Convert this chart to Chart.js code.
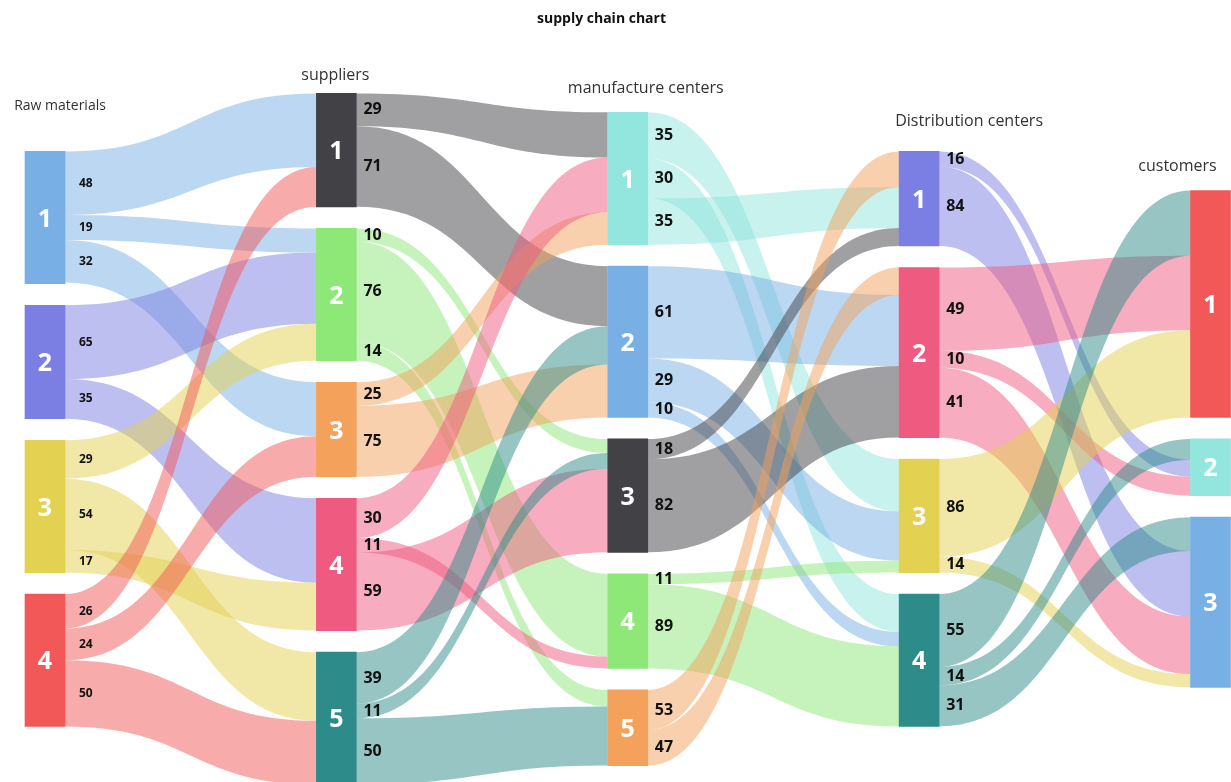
<!DOCTYPE html>
<html>
<head>
<meta charset="utf-8">
<title>supply chain chart</title>
<script src="https://cdn.jsdelivr.net/npm/chart.js@4.4.1/dist/chart.umd.min.js"></script>
<style>
  html, body { margin: 0; padding: 0; background: #fff; }
  #wrap { width: 1231px; height: 782px; position: relative; }
</style>
</head>
<body>
<div id="wrap"><canvas id="chart"></canvas></div>
<script>
// stages, left to right
var chartTitle = "supply chain chart";
var stages = ["Raw materials", "suppliers", "manufacture centers", "Distribution centers", "customers"];

// node volumes per stage, top to bottom
var rawVolume = [7, 6, 7, 7];
var supplierVolume = [6, 7, 5, 7, 7];
var manufactureVolume = [7, 8, 6, 5, 4];
var distributionVolume = [5, 9, 6, 7];
var customerVolume = [12, 3, 9];

// links: [from node, to node, percent of the source], in order down the source node
var rawToSupplier = [
  [1, 1, 48], [1, 2, 19], [1, 3, 32],
  [2, 2, 65], [2, 4, 35],
  [3, 2, 29], [3, 5, 54], [3, 4, 17],
  [4, 1, 26], [4, 3, 24], [4, 5, 50]
];
var supplierToManufacture = [
  [1, 1, 29], [1, 2, 71],
  [2, 3, 10], [2, 4, 76], [2, 5, 14],
  [3, 1, 25], [3, 2, 75],
  [4, 1, 30], [4, 4, 11], [4, 3, 59],
  [5, 2, 39], [5, 3, 11], [5, 5, 50]
];
var manufactureToDistribution = [
  [1, 3, 35], [1, 4, 30], [1, 1, 35],
  [2, 2, 61], [2, 3, 29], [2, 4, 10],
  [3, 1, 18], [3, 2, 82],
  [4, 3, 11], [4, 4, 89],
  [5, 1, 53], [5, 2, 47]
];
var distributionToCustomer = [
  [1, 2, 16], [1, 3, 84],
  [2, 1, 49], [2, 2, 10], [2, 3, 41],
  [3, 1, 86], [3, 3, 14],
  [4, 1, 55], [4, 2, 14], [4, 3, 31]
];

// order in which incoming links stack on each target node (source node numbers)
var supplierArrivals = [[1, 4], [1, 2, 3], [1, 4], [2, 3], [3, 4]];
var manufactureArrivals = [[1, 4, 3], [1, 5, 3], [2, 5, 4], [2, 4], [2, 5]];
var distributionArrivals = [[5, 1, 3], [5, 2, 3], [1, 2, 4], [1, 2, 4]];
var customerArrivals = [[4, 2, 3], [4, 1, 2], [4, 1, 2, 3]];

var BLUE = "#78b0e6", PURPLE = "#7b7fe3", YELLOW = "#e3d152", RED = "#f25858",
    DARK = "#414146", GREEN = "#8de878", ORANGE = "#f4a25b", PINK = "#ef5a80",
    TEAL = "#2d8c8a", AQUA = "#92e6de";
var nodeColors = [
  [BLUE, PURPLE, YELLOW, RED],
  [DARK, GREEN, ORANGE, PINK, TEAL],
  [AQUA, BLUE, DARK, GREEN, ORANGE],
  [PURPLE, PINK, YELLOW, TEAL],
  [RED, AQUA, BLUE]
];

var stageVolumes = [rawVolume, supplierVolume, manufactureVolume, distributionVolume, customerVolume];
var stageLinks = [rawToSupplier, supplierToManufacture, manufactureToDistribution, distributionToCustomer];
var stageArrivals = [supplierArrivals, manufactureArrivals, distributionArrivals, customerArrivals];

var unitGap = 1.14;      // gap between nodes, in volume units
var centerValue = 21.17; // every stage is centred on this value
var halfBar = 20;

function layoutStage(vols) {
  var total = vols.reduce(function(a, b) { return a + b; }, 0) + unitGap * (vols.length - 1);
  var y = centerValue - total / 2;
  return vols.map(function(v) { var span = [y, y + v]; y += v + unitGap; return span; });
}
var nodeSpans = stageVolumes.map(layoutStage);

function rgba(hex, a) {
  var n = parseInt(hex.slice(1), 16);
  return "rgba(" + (n >> 16) + "," + ((n >> 8) & 255) + "," + (n & 255) + "," + a + ")";
}

// source and target spans of every link, in volume units
function buildPieces(s) {
  var srcVol = stageVolumes[s], dstVol = stageVolumes[s + 1];
  var cursor = nodeSpans[s].map(function(sp) { return sp[0]; });
  var pieces = stageLinks[s].map(function(l) {
    var w = l[2] / 100 * srcVol[l[0] - 1];
    var y0 = cursor[l[0] - 1];
    cursor[l[0] - 1] += w;
    return { from: l[0], to: l[1], pct: l[2], s0: y0, s1: y0 + w, w: w };
  });
  nodeSpans[s + 1].forEach(function(sp, t) {
    var incoming = stageArrivals[s][t].map(function(from) {
      return pieces.filter(function(p) { return p.from === from && p.to === t + 1; })[0];
    });
    var sum = incoming.reduce(function(a, p) { return a + p.w; }, 0);
    var k = dstVol[t] / sum;
    var y = sp[0];
    incoming.forEach(function(p) { p.t0 = y; y += p.w * k; p.t1 = y; });
  });
  return pieces;
}

var flowPlugin = {
  id: "flows",
  beforeDatasetsDraw: function(chart) {
    var ctx = chart.ctx, xs = chart.scales.x, ys = chart.scales.y;
    ctx.save();
    stageLinks.forEach(function(links, s) {
      var x0 = xs.getPixelForValue(s) + halfBar;
      var x1 = xs.getPixelForValue(s + 1) - halfBar;
      var xm = (x0 + x1) / 2;
      buildPieces(s).forEach(function(p) {
        var a0 = ys.getPixelForValue(p.s0), a1 = ys.getPixelForValue(p.s1);
        var b0 = ys.getPixelForValue(p.t0), b1 = ys.getPixelForValue(p.t1);
        ctx.beginPath();
        ctx.moveTo(x0, a0);
        ctx.bezierCurveTo(xm, a0, xm, b0, x1, b0);
        ctx.lineTo(x1, b1);
        ctx.bezierCurveTo(xm, b1, xm, a1, x0, a1);
        ctx.closePath();
        ctx.fillStyle = rgba(nodeColors[s][p.from - 1], 0.5);
        ctx.fill();
      });
    });
    ctx.restore();
  },
  afterDatasetsDraw: function(chart) {
    var ctx = chart.ctx, xs = chart.scales.x, ys = chart.scales.y;
    var headerOffsets = [[15, -45], [-1, -18], [18, -24], [50, -30], [-33, -24]];
    var headerSizes = [14, 16, 16, 16, 16];
    ctx.save();
    ctx.textBaseline = "middle";
    // title
    ctx.fillStyle = "#111111";
    ctx.textAlign = "center";
    ctx.font = "bold 14px 'Open Sans'";
    ctx.fillText(chartTitle, chart.width / 2 - 14, 19);
    // node numbers
    ctx.fillStyle = "#ffffff";
    ctx.font = "bold 25px 'Open Sans'";
    nodeSpans.forEach(function(col, s) {
      var cx = xs.getPixelForValue(s);
      col.forEach(function(sp, i) {
        ctx.fillText(String(i + 1), cx, ys.getPixelForValue((sp[0] + sp[1]) / 2) + 2);
      });
    });
    // percent labels at the source side
    ctx.fillStyle = "#111111";
    ctx.textAlign = "left";
    stageLinks.forEach(function(links, s) {
      var x0 = xs.getPixelForValue(s) + halfBar + (s === 0 ? 14 : 7);
      ctx.font = s === 0 ? "bold 12px 'Open Sans'" : "bold 16px 'Open Sans'";
      buildPieces(s).forEach(function(p) {
        ctx.fillText(String(p.pct), x0, ys.getPixelForValue((p.s0 + p.s1) / 2));
      });
    });
    // stage headers
    ctx.fillStyle = "#333333";
    ctx.textAlign = "center";
    stages.forEach(function(name, s) {
      ctx.font = headerSizes[s] + "px 'Open Sans'";
      var top = ys.getPixelForValue(nodeSpans[s][0][0]);
      ctx.fillText(name, xs.getPixelForValue(s) + headerOffsets[s][0], top + headerOffsets[s][1]);
    });
    ctx.restore();
  }
};

var datasets = [];
for (var row = 0; row < 5; row++) {
  datasets.push({
    data: nodeSpans.map(function(col) { return col[row] || null; }),
    backgroundColor: nodeColors.map(function(col) { return col[row] || "rgba(0,0,0,0)"; }),
    barThickness: 40,
    grouped: false,
    clip: false,
    borderWidth: 0
  });
}

new Chart(document.getElementById("chart"), {
  type: "bar",
  data: { labels: stages, datasets: datasets },
  plugins: [flowPlugin],
  options: {
    responsive: true,
    maintainAspectRatio: false,
    animation: false,
    layout: { padding: { left: 45, right: 20.5, top: 38.8, bottom: 0 } },
    plugins: {
      legend: { display: false },
      tooltip: { enabled: false },
      title: { display: false }
    },
    scales: {
      x: { type: "category", offset: false, display: false, grid: { display: false } },
      y: { type: "linear", reverse: true, min: 0, max: 39.32, display: false, grid: { display: false } }
    }
  }
});
</script>
</body>
</html>
